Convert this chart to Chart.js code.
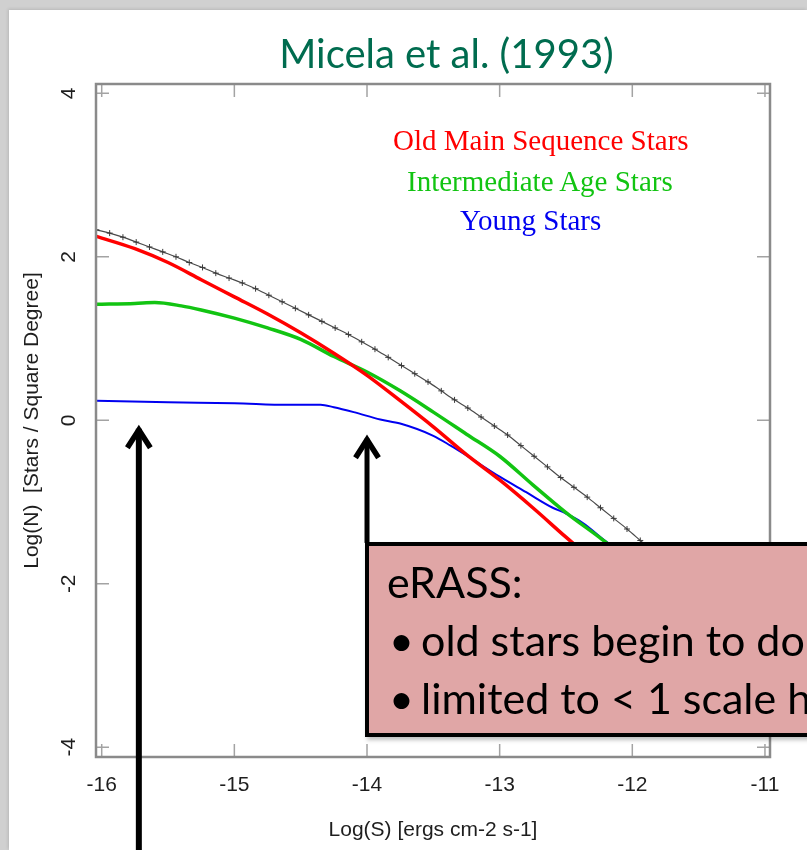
<!DOCTYPE html>
<html>
<head>
<meta charset="utf-8">
<script src="https://cdn.jsdelivr.net/npm/chart.js@4.4.1/dist/chart.umd.min.js"></script>
<style>
  html, body { margin: 0; padding: 0; }
  body { width: 807px; height: 850px; overflow: hidden; position: relative; background: #d0d0d0; }
  #panel { position: absolute; left: 9px; top: 10px; width: 798px; height: 840px; background: #fff;
           box-shadow: -1px -1px 3px rgba(0,0,0,0.12); }
  #c { position: absolute; left: 0; top: 0; }
  .title { position: absolute; left: 0; top: 29px; width: 893px; text-align: center;
           font-family: 'Lato', 'Open Sans', sans-serif; font-size: 40px; line-height: 48px; color: #006c4f; white-space: nowrap; }
  .key { position: absolute; font-family: 'Liberation Serif', 'DejaVu Serif', serif; font-size: 29px;
         line-height: 29px; white-space: nowrap; }
  #note { position: absolute; left: 365px; top: 542px; width: 600px; height: 187px;
          border: 4px solid #000; background: #e0a6a6; box-shadow: 2px 3px 4px rgba(0,0,0,0.25); }
  #note div { position: absolute; font-family: 'Lato', 'Open Sans', sans-serif; font-size: 43px;
              line-height: 52px; color: #000; white-space: nowrap; }
</style>
</head>
<body>
<div id="panel"></div>
<canvas id="c" width="807" height="850"></canvas>
<div class="title">Micela et al. (1993)</div>
<div class="key" style="left:393px; top:126px; color:#ff0000;">Old Main Sequence Stars</div>
<div class="key" style="left:407px; top:167px; color:#12c412;">Intermediate Age Stars</div>
<div class="key" style="left:460px; top:206px; color:#0000f0;">Young Stars</div>
<div id="note">
  <div style="left:18px; top:10px;">eRASS:</div>
  <div style="left:20px; top:68px;">•</div>
  <div style="left:52px; top:68px;">old stars begin to dominate</div>
  <div style="left:20px; top:126px;">•</div>
  <div style="left:52px; top:126px;">limited to &lt; 1 scale height</div>
</div>
<script>
// Log(S) flux values and Log(N) counts for each stellar population
const oldX   = [-16.04, -15.75, -15.5, -15.25, -15, -14.75, -14.5, -14.25, -14, -13.75, -13.5, -13.25, -13, -12.75, -12.5, -12.35];
const oldY   = [2.25, 2.10, 1.93, 1.72, 1.51, 1.30, 1.07, 0.82, 0.55, 0.24, -0.08, -0.42, -0.73, -1.07, -1.43, -1.64];

const interX = [-16.04, -15.75, -15.6, -15.4, -15.25, -15, -14.75, -14.5, -14.25, -14, -13.75, -13.5, -13.25, -13, -12.75, -12.5, -12.25, -12.1];
const interY = [1.42, 1.43, 1.44, 1.40, 1.35, 1.25, 1.13, 0.99, 0.78, 0.59, 0.36, 0.10, -0.17, -0.44, -0.79, -1.13, -1.43, -1.62];

const youngX = [-16.04, -15.5, -15, -14.6, -14.35, -14.25, -14.1, -13.9, -13.75, -13.5, -13.37, -13.25, -13, -12.8, -12.6, -12.5, -12.37, -12.2, -12.1];
const youngY = [0.24, 0.22, 0.21, 0.19, 0.19, 0.16, 0.10, 0.01, -0.04, -0.19, -0.31, -0.43, -0.69, -0.88, -1.07, -1.14, -1.26, -1.48, -1.60];

// summed counts, one "+" per 0.1 dex in flux
const totalX = [-16.04, -15.94, -15.84, -15.74, -15.64, -15.54, -15.44, -15.34, -15.24, -15.14,
                -15.04, -14.94, -14.84, -14.74, -14.64, -14.54, -14.44, -14.34, -14.24, -14.14,
                -14.04, -13.94, -13.84, -13.74, -13.64, -13.54, -13.44, -13.34, -13.24, -13.14,
                -13.04, -12.94, -12.84, -12.74, -12.64, -12.54, -12.44, -12.34, -12.24, -12.14,
                -12.04, -11.94, -11.84];
const totalY = [2.33, 2.29, 2.24, 2.18, 2.12, 2.06, 2.00, 1.93, 1.87, 1.80,
                1.74, 1.68, 1.61, 1.53, 1.45, 1.37, 1.29, 1.21, 1.13, 1.05,
                0.96, 0.87, 0.77, 0.67, 0.57, 0.47, 0.36, 0.25, 0.15, 0.04,
                -0.07, -0.18, -0.31, -0.44, -0.57, -0.70, -0.82, -0.94, -1.07, -1.20,
                -1.33, -1.47, -1.61];

// axis ticks
const xTicks = [-16, -15, -14, -13, -12, -11];
const xTickLabels = ['-16', '-15', '-14', '-13', '-12', '-11'];
const yTicks = [-4, -2, 0, 2, 4];
const yTickLabels = ['-4', '-2', '0', '2', '4'];

// arrows pointing at the flux limits (x position, arrow tip, tail end; null = runs off the page)
const arrowX    = [-15.72, -14.0];
const arrowTipY = [-0.08, -0.20];
const arrowEndY = [null, -1.50];

const pts = (xs, ys) => xs.map((v, i) => ({ x: v, y: ys[i] }));
const axisFont = { family: 'Liberation Sans', size: 21 };

// R-style frame: box, inward ticks on every side, vertical y labels
const framePlugin = {
  id: 'frame',
  afterDatasetsDraw(chart) {
    const { ctx, chartArea: a, scales: { x, y } } = chart;
    const tl = 13;
    ctx.save();
    ctx.strokeStyle = '#a3a3a3';
    ctx.lineWidth = 1.5;
    ctx.beginPath();
    x.ticks.forEach(t => {
      const px = x.getPixelForValue(t.value);
      ctx.moveTo(px, a.top); ctx.lineTo(px, a.top + tl);
      ctx.moveTo(px, a.bottom); ctx.lineTo(px, a.bottom - tl);
    });
    y.ticks.forEach(t => {
      const py = y.getPixelForValue(t.value);
      ctx.moveTo(a.left, py); ctx.lineTo(a.left + tl, py);
      ctx.moveTo(a.right, py); ctx.lineTo(a.right - tl, py);
    });
    ctx.stroke();
    ctx.strokeStyle = '#8a8a8a';
    ctx.lineWidth = 2.5;
    ctx.strokeRect(a.left, a.top, a.right - a.left, a.bottom - a.top);

    ctx.fillStyle = '#1e1e1e';
    ctx.font = axisFont.size + 'px ' + axisFont.family;
    ctx.textAlign = 'center';
    ctx.textBaseline = 'middle';
    y.ticks.forEach(t => {
      const py = y.getPixelForValue(t.value);
      ctx.save();
      ctx.translate(a.left - 27, py);
      ctx.rotate(-Math.PI / 2);
      ctx.fillText(yTickLabels[yTicks.indexOf(t.value)], 0, 0);
      ctx.restore();
    });
    ctx.restore();
  },
  afterDraw(chart) {
    const { ctx, scales: { x, y } } = chart;
    ctx.save();
    ctx.strokeStyle = '#000';
    arrowX.forEach((ax, i) => {
      const px = x.getPixelForValue(ax);
      const tip = y.getPixelForValue(arrowTipY[i]);
      const end = arrowEndY[i] === null ? chart.height : y.getPixelForValue(arrowEndY[i]);
      ctx.lineWidth = i === 0 ? 6 : 5;
      ctx.lineCap = 'butt';
      ctx.beginPath();
      ctx.moveTo(px, tip + 2);
      ctx.lineTo(px, end);
      ctx.stroke();
      ctx.lineJoin = 'miter';
      ctx.lineWidth = 5.5;
      ctx.beginPath();
      ctx.moveTo(px - 11.5, tip + 21);
      ctx.lineTo(px, tip + 3);
      ctx.lineTo(px + 11.5, tip + 21);
      ctx.stroke();
    });
    ctx.restore();
  }
};

new Chart(document.getElementById('c'), {
  type: 'line',
  data: {
    datasets: [
      { label: 'Old Main Sequence Stars', data: pts(oldX, oldY), borderColor: '#ff0000', borderWidth: 3.5,
        pointRadius: 0, cubicInterpolationMode: 'monotone' },
      { label: 'Intermediate Age Stars', data: pts(interX, interY), borderColor: '#12c412', borderWidth: 3.5,
        pointRadius: 0, cubicInterpolationMode: 'monotone' },
      { label: 'Young Stars', data: pts(youngX, youngY), borderColor: '#0000f0', borderWidth: 2,
        pointRadius: 0, cubicInterpolationMode: 'monotone' },
      { label: 'Total', data: pts(totalX, totalY), borderColor: '#4a4a4a', borderWidth: 1.2,
        pointStyle: 'cross', pointRadius: 3, pointBorderColor: '#3a3a3a', pointBorderWidth: 1,
        cubicInterpolationMode: 'monotone' }
    ]
  },
  options: {
    responsive: false,
    devicePixelRatio: 1,
    animation: false,
    events: [],
    layout: { padding: { left: 0, right: 37, top: 84, bottom: 0 } },
    plugins: { legend: { display: false }, tooltip: { enabled: false }, title: { display: false } },
    scales: {
      x: {
        type: 'linear', min: -16.043, max: -10.962,
        afterBuildTicks: s => { s.ticks = xTicks.map(v => ({ value: v })); },
        afterFit: s => { s.height = 93; },
        ticks: { callback: (v, i) => xTickLabels[i], font: axisFont, color: '#1e1e1e', padding: 16,
                 maxRotation: 0, minRotation: 0, autoSkip: false },
        grid: { display: false, drawTicks: false },
        border: { display: false },
        title: { display: true, text: 'Log(S) [ergs cm-2 s-1]', font: axisFont, color: '#1e1e1e',
                 padding: { top: 0, bottom: 7 } }
      },
      y: {
        type: 'linear', min: -4.119, max: 4.114,
        afterBuildTicks: s => { s.ticks = yTicks.map(v => ({ value: v })); },
        afterFit: s => { s.width = 96; },
        ticks: { display: false },
        grid: { display: false, drawTicks: false },
        border: { display: false },
        title: { display: true, text: 'Log(N)  [Stars / Square Degree]', font: axisFont, color: '#1e1e1e',
                 padding: { top: 20, bottom: 0 } }
      }
    }
  },
  plugins: [framePlugin]
});
</script>
</body>
</html>
